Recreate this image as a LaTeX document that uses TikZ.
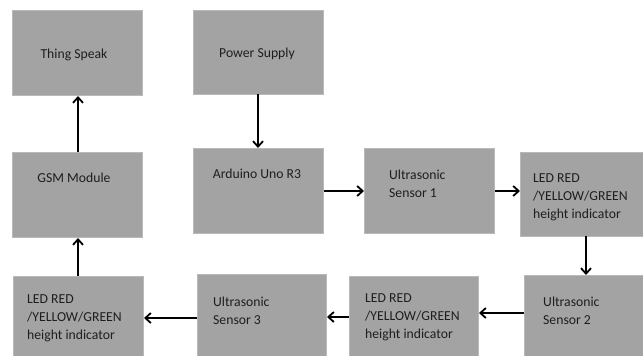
\documentclass[tikz,border=0pt]{standalone}
\usepackage{fontspec}
\setmainfont{Carlito}
\usetikzlibrary{arrows.meta}
\definecolor{boxfill}{HTML}{A3A3A3}
\definecolor{boxline}{HTML}{B9B9B9}
\definecolor{txt}{HTML}{1E1E1E}
\tikzset{
  blk/.style={draw=boxline, fill=boxfill, line width=1pt, anchor=north west, inner sep=0pt},
  lbl/.style={text=txt, inner sep=0pt, font=\fontsize{13.7}{18}\selectfont},
  lbll/.style={lbl, align=left, anchor=north west},
  conn/.style={draw=black, line width=1.8pt, -{Straight Barb[length=5.5pt,width=10pt,line width=1.8pt]}}
}
\begin{document}
\begin{tikzpicture}[x=1pt,y=-1pt]
\useasboundingbox (0,0) rectangle (643,356);
\fill[white] (0,0) rectangle (643,356);
% boxes
\node[blk, minimum width=130pt, minimum height=85pt] (ts) at (12,10) {};
\node[blk, minimum width=130pt, minimum height=84pt] (ps) at (193,10) {};
\node[blk, minimum width=130pt, minimum height=85pt] (gsm) at (12,152) {};
\node[blk, minimum width=130pt, minimum height=85pt] (ard) at (193,148) {};
\node[blk, minimum width=130pt, minimum height=85pt] (s1) at (364,148) {};
\node[blk, minimum width=130pt, minimum height=84pt] (led1) at (520,152) {};
\node[blk, minimum width=130pt, minimum height=90pt] (s2) at (524,275) {};
\node[blk, minimum width=129pt, minimum height=90pt] (led2) at (349,276) {};
\node[blk, minimum width=129pt, minimum height=90pt] (s3) at (197,274) {};
\node[blk, minimum width=130pt, minimum height=90pt] (led3) at (13,276) {};
% labels
\node[lbl, anchor=base] (tst) at (74,58) {Thing Speak};
\node[lbl, anchor=base] (pst) at (257,57) {Power Supply};
\node[lbl, anchor=base] (gsmt) at (74,182) {GSM Module};
\node[lbl, anchor=base] (ardt) at (257,178) {Arduino Uno R3};
\node[lbll] (s1t) at (389,170) {Ultrasonic\\Sensor 1};
\node[lbll] (led1t) at (533,174) {LED RED\\/YELLOW/GREEN\\height indicator};
\node[lbll] (s2t) at (543,297) {Ultrasonic\\Sensor 2};
\node[lbll] (led2t) at (365,294) {LED RED\\/YELLOW/GREEN\\height indicator};
\node[lbll] (s3t) at (213,297) {Ultrasonic\\Sensor 3};
\node[lbll] (led3t) at (27,295) {LED RED\\/YELLOW/GREEN\\height indicator};
% connectors
\coordinate (c1) at (258,94);
\coordinate (c2) at (586,236);
\coordinate (c3) at (524,313);
\coordinate (c4) at (349,317);
\coordinate (c5) at (197,318);
\coordinate (c6) at (78,276);
\coordinate (c7) at (78,152);
\draw[conn] (c1) -- (c1 |- ard.north);
\draw[conn] (ard.east) -- (ard.east -| s1.west);
\draw[conn] (s1.east) -- (s1.east -| led1.west);
\draw[conn] (c2) -- (c2 |- s2.north);
\draw[conn] (c3) -- (c3 -| led2.east);
\draw[conn] (c4) -- (c4 -| s3.east);
\draw[conn] (c5) -- (c5 -| led3.east);
\draw[conn] (c6) -- (c6 |- gsm.south);
\draw[conn] (c7) -- (c7 |- ts.south);
\end{tikzpicture}
\end{document}
